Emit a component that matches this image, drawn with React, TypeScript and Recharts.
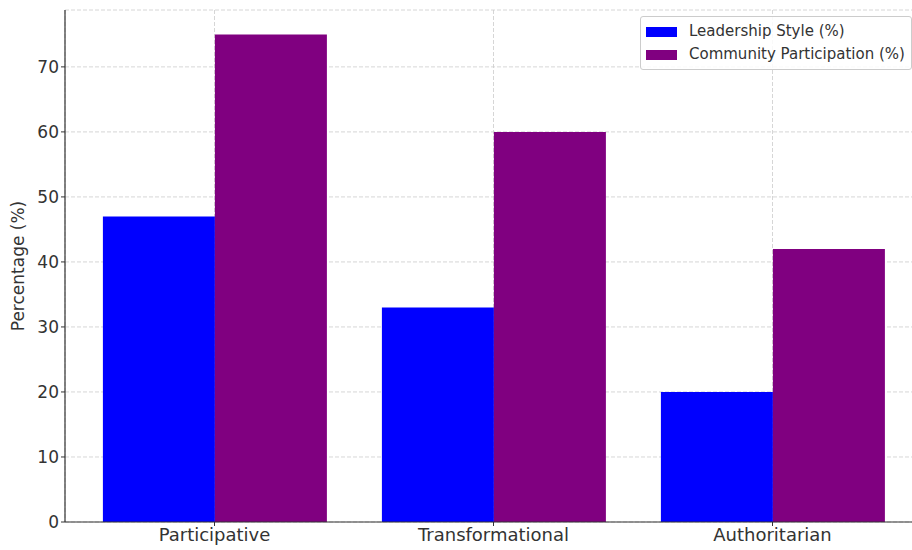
import * as React from "react";
import { Bar, BarChart, CartesianGrid, XAxis, YAxis } from "recharts";

const styles = ["Participative", "Transformational", "Authoritarian"];
const leadershipStyle = [47, 33, 20];
const communityParticipation = [75, 60, 42];
const yTicks = [0, 10, 20, 30, 40, 50, 60, 70];

const data = styles.map((name, i) => ({
  name,
  leadership: leadershipStyle[i],
  community: communityParticipation[i],
}));

const FONT = "'DejaVu Sans', sans-serif";
const AXIS = "#333333";
const TEXT = "#333333";

const LEGEND_ITEMS = [
  { label: "Leadership Style (%)", color: "#0000ff" },
  { label: "Community Participation (%)", color: "#800080" },
];

function LegendBox() {
  return (
    <div
      style={{
        position: "absolute",
        left: 640,
        top: 16,
        border: "1px solid #cccccc",
        borderRadius: 3,
        background: "rgba(255,255,255,0.85)",
        padding: "3px 6px 3px 5px",
        fontFamily: FONT,
        fontSize: 15,
        color: TEXT,
        lineHeight: "23px",
        whiteSpace: "nowrap",
      }}
    >
      {LEGEND_ITEMS.map((item) => (
        <div key={item.label} style={{ display: "flex", alignItems: "center" }}>
          <span
            style={{
              display: "inline-block",
              width: 31,
              height: 10,
              background: item.color,
              marginRight: 12,
            }}
          />
          {item.label}
        </div>
      ))}
    </div>
  );
}

export default function App() {
  return (
    <div
      style={{
        position: "absolute",
        left: 0,
        top: 0,
        width: 912,
        height: 550,
        overflow: "hidden",
        background: "#fff",
      }}
    >
      <BarChart
        width={932}
        height={550}
        data={data}
        margin={{ top: 10, right: 10, bottom: 0, left: 0 }}
        barCategoryGap="10%"
        barGap={0}
      >
        <CartesianGrid stroke="#cccccc" strokeDasharray="4 2" strokeWidth={0.8} />
        <XAxis
          dataKey="name"
          height={28}
          padding={{ left: 10, right: 10 }}
          axisLine={{ stroke: AXIS, strokeWidth: 1.2 }}
          tickLine={{ stroke: AXIS }}
          tickSize={4}
          tick={{ fill: TEXT, fontSize: 18, fontFamily: FONT }}
        />
        <YAxis
          width={65}
          domain={[0, 78.75]}
          ticks={yTicks}
          allowDataOverflow
          axisLine={{ stroke: AXIS, strokeWidth: 1.2 }}
          tickLine={{ stroke: AXIS }}
          tickSize={4}
          tick={{ fill: TEXT, fontSize: 17, fontFamily: FONT }}
          label={{
            value: "Percentage (%)",
            angle: -90,
            position: "insideLeft",
            offset: 18,
            style: { textAnchor: "middle", fill: TEXT, fontSize: 17, fontFamily: FONT },
          }}
        />
        <Bar dataKey="leadership" name="Leadership Style (%)" fill="#0000ff" isAnimationActive={false} />
        <Bar dataKey="community" name="Community Participation (%)" fill="#800080" isAnimationActive={false} />
      </BarChart>
      <LegendBox />
    </div>
  );
}
